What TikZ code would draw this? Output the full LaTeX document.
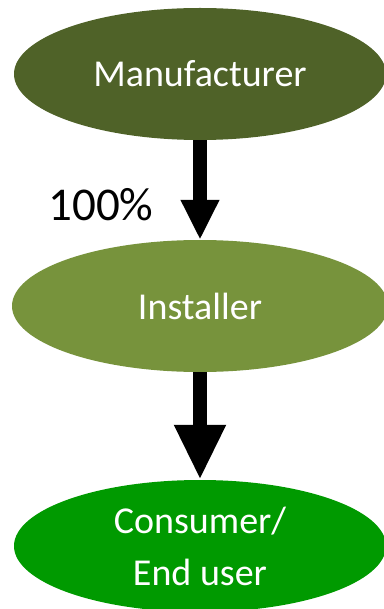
\documentclass[tikz,border=0pt]{standalone}
\usepackage{fontspec}
\setmainfont{Carlito}
\usetikzlibrary{shapes.geometric,arrows.meta}
\definecolor{darkolive}{HTML}{4F6228}
\definecolor{olive}{HTML}{77933C}
\definecolor{brightgreen}{HTML}{009A00}
\begin{document}
\begin{tikzpicture}[x=1pt,y=-1pt,
  oval/.style={ellipse,inner sep=0pt,minimum height=132pt,text=white,
    font=\fontsize{38}{52}\selectfont,align=center},
  flow/.style={line width=14pt}]
\useasboundingbox (0,0) rectangle (383,609);
\node[oval,fill=darkolive,minimum width=372pt] (man) at (200,74) {Manufacturer};
\node[oval,fill=olive,minimum width=376pt] (ins) at (200,306) {Installer};
\node[oval,fill=brightgreen,minimum width=372pt] (con) at (200,546) {Consumer/\\End user};
\draw[flow,-{Triangle[length=40pt,width=36pt]}] (man.south) -- (ins.north);
\draw[flow,-{Triangle[length=55pt,width=48pt]}] (ins.south) -- (con.north);
\node[font=\fontsize{47}{56}\selectfont,inner sep=0pt] (pct) at (101,205) {100\%};
\end{tikzpicture}
\end{document}
